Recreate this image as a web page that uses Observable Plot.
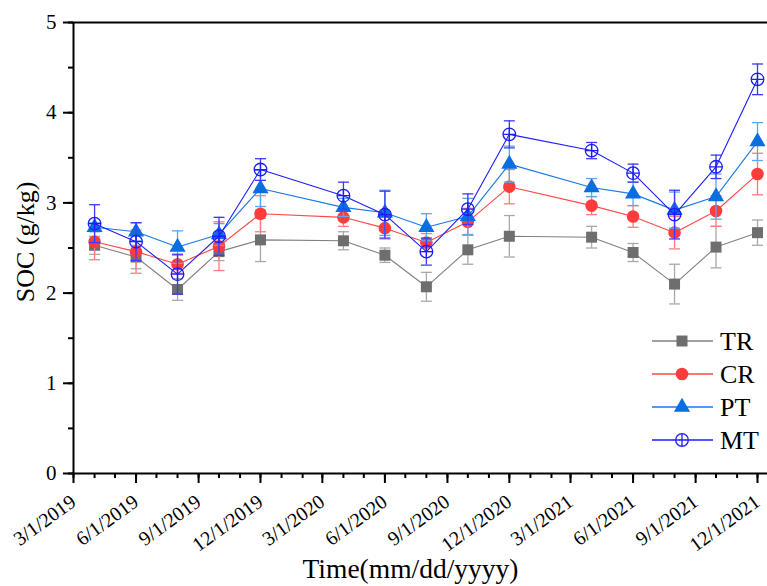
<!DOCTYPE html>
<html>
<head>
<meta charset="utf-8">
<script src="https://cdn.jsdelivr.net/npm/d3@7"></script>
<script src="https://cdn.jsdelivr.net/npm/@observablehq/plot@0.6"></script>
<style>
  html, body { margin: 0; padding: 0; background: #fff; }
  #wrap { position: relative; width: 767px; height: 586px; }
  #wrap svg { position: absolute; left: 0; top: 0; }
</style>
</head>
<body>
<div id="wrap"></div>
<script>
// ---- data ----
const dates = ["2019-04-01","2019-06-01","2019-08-01","2019-10-01","2019-12-01",
               "2020-04-01","2020-06-01","2020-08-01","2020-10-01","2020-12-01",
               "2021-04-01","2021-06-01","2021-08-01","2021-10-01","2021-12-01"];
const seriesNames = ["TR", "CR", "PT", "MT"];
const TR = [2.53,2.40,2.04,2.46,2.59,2.58,2.42,2.07,2.48,2.63,2.62,2.45,2.10,2.51,2.67];
const TR_err = [0.10,0.13,0.12,0.10,0.24,0.10,0.08,0.16,0.16,0.23,0.12,0.10,0.22,0.23,0.14];
const CR = [2.57,2.46,2.32,2.52,2.88,2.84,2.72,2.56,2.79,3.18,2.97,2.85,2.67,2.91,3.32];
const CR_err = [0.20,0.24,0.10,0.27,0.20,0.10,0.12,0.10,0.15,0.19,0.10,0.12,0.18,0.17,0.23];
const PT = [2.73,2.68,2.51,2.65,3.16,2.95,2.89,2.73,2.85,3.43,3.17,3.10,2.92,3.07,3.68];
const PT_err = [0.05,0.10,0.18,0.12,0.20,0.10,0.25,0.15,0.20,0.20,0.10,0.13,0.20,0.25,0.21];
const MT = [2.77,2.57,2.21,2.63,3.37,3.08,2.87,2.46,2.93,3.76,3.58,3.33,2.87,3.40,4.37];
const MT_err = [0.21,0.21,0.22,0.21,0.12,0.15,0.26,0.15,0.17,0.15,0.09,0.10,0.27,0.13,0.17];
const xTicks = ["2019-03-01","2019-06-01","2019-09-01","2019-12-01","2020-03-01","2020-06-01",
                "2020-09-01","2020-12-01","2021-03-01","2021-06-01","2021-09-01","2021-12-01"];
const yTicks = [0, 1, 2, 3, 4, 5];
const xTitle = "Time(mm/dd/yyyy)";
const yTitle = "SOC (g/kg)";

// ---- styles ----
const lineColors = {TR: "#808080", CR: "#ff4848", PT: "#1a78e6", MT: "#1c1cff"};
const markColors = {TR: "#6e6e6e", CR: "#ff3c3c", PT: "#0a6ee0", MT: "#1c1cff"};
const barColors  = {TR: "#a8a8a8", CR: "#ff7a7a", PT: "#5aa6f2", MT: "#3a3aff"};
const font = "Liberation Serif";

const valuesBy = {TR, CR, PT, MT};
const errBy = {TR: TR_err, CR: CR_err, PT: PT_err, MT: MT_err};
const parse = s => new Date(s + "T00:00:00Z");
const fmt = d => `${d.getUTCMonth() + 1}/${d.getUTCDate()}/${d.getUTCFullYear()}`;

const capSymbol = {
  draw(ctx, size) { const w = Math.sqrt(size / Math.PI); ctx.moveTo(-w, 0); ctx.lineTo(w, 0); }
};
const circlePlus = {
  draw(ctx, size) {
    const r = Math.sqrt(size / Math.PI);
    ctx.moveTo(r, 0); ctx.arc(0, 0, r, 0, 2 * Math.PI);
    ctx.moveTo(-r, 0); ctx.lineTo(r, 0);
    ctx.moveTo(0, -r); ctx.lineTo(0, r);
  }
};
const symbols = {TR: "square", CR: "circle", PT: "triangle", MT: circlePlus};
const radii = {TR: 6.2, CR: 6.3, PT: 6.0, MT: 6.3};

const xStart = parse("2019-03-01"), xEnd = parse("2021-12-01");
const monthly = d3.utcMonth.range(xStart, d3.utcDay.offset(xEnd, 1));

const marks = [];
for (const s of seriesNames) {
  const data = dates.map((d, i) => ({date: parse(d), v: valuesBy[s][i], e: errBy[s][i]}));
  marks.push(Plot.line(data, {x: "date", y: "v", stroke: lineColors[s], strokeWidth: 1.1}));
  marks.push(Plot.ruleX(data, {x: "date", y1: d => d.v - d.e, y2: d => d.v + d.e, stroke: barColors[s], strokeWidth: 1.3}));
  marks.push(Plot.dot(data, {x: "date", y: d => d.v + d.e, symbol: capSymbol, r: 5.5, stroke: barColors[s], strokeWidth: 1.3}));
  marks.push(Plot.dot(data, {x: "date", y: d => d.v - d.e, symbol: capSymbol, r: 5.5, stroke: barColors[s], strokeWidth: 1.3}));
  if (s === "MT") {
    marks.push(Plot.dot(data, {x: "date", y: "v", symbol: symbols[s], r: radii[s], fill: "white", fillOpacity: 0, stroke: markColors[s], strokeWidth: 1.3}));
  } else {
    marks.push(Plot.dot(data, {x: "date", y: "v", symbol: symbols[s], r: radii[s], fill: markColors[s], stroke: "none"}));
  }
}

const chart = Plot.plot({
  width: 767, height: 586,
  marginLeft: 73, marginTop: 22, marginBottom: 113, marginRight: 0,
  style: {fontFamily: font, color: "black", background: "white", overflow: "visible"},
  x: {type: "utc", domain: [xStart, xEnd], range: [73, 757], label: null},
  y: {domain: [0, 5], range: [473, 22], label: null},
  marks: [
    Plot.axisY(d3.range(0, 5.01, 0.5), {tickSize: 5, tickFormat: () => "", strokeWidth: 2, label: null}),
    Plot.axisY(yTicks, {tickSize: 10, tickPadding: 7, fontSize: 21, fontFamily: font, strokeWidth: 2, label: null, tickFormat: d => String(d)}),
    Plot.axisX(monthly, {tickSize: 5, tickFormat: () => "", strokeWidth: 2, label: null}),
    Plot.axisX(xTicks.map(parse), {tickSize: 10, tickPadding: 16, dx: 0, tickRotate: -36, fontSize: 20, fontFamily: font, strokeWidth: 2, label: null, tickFormat: fmt}),
    Plot.ruleY([0], {stroke: "black", strokeWidth: 2}),
    Plot.ruleY([5], {stroke: "black", strokeWidth: 2}),
    Plot.ruleX([xStart], {stroke: "black", strokeWidth: 2}),
    ...marks,
    Plot.text([yTitle], {frameAnchor: "left", textAnchor: "middle", lineAnchor: "middle", dx: -48, dy: -6, rotate: -90, fontSize: 26, fontFamily: font, fill: "black"}),
    Plot.text([xTitle], {frameAnchor: "bottom", textAnchor: "middle", lineAnchor: "middle", dy: 96, dx: -10, fontSize: 27.5, fontFamily: font, fill: "black"})
  ]
});
document.getElementById("wrap").appendChild(chart);

// ---- legend (overlay) ----
const leg = d3.select("#wrap").append("svg")
  .attr("width", 767).attr("height", 586)
  .style("pointer-events", "none");
const rowY = [341, 374, 407, 440];
seriesNames.forEach((s, i) => {
  const g = leg.append("g").attr("transform", `translate(0,${rowY[i]})`);
  g.append("line").attr("x1", 652).attr("x2", 713).attr("y1", 0).attr("y2", 0)
    .attr("stroke", lineColors[s]).attr("stroke-width", 1.3);
  const r = radii[s];
  const sym = typeof symbols[s] === "string"
    ? {square: d3.symbolSquare, circle: d3.symbolCircle, triangle: d3.symbolTriangle}[symbols[s]]
    : symbols[s];
  const path = d3.symbol(sym, Math.PI * r * r)();
  const p = g.append("path").attr("d", path).attr("transform", "translate(682,0)");
  if (s === "MT") p.attr("fill", "white").attr("stroke", markColors[s]).attr("stroke-width", 1.3);
  else p.attr("fill", markColors[s]);
  g.append("text").attr("x", 720).attr("y", 0).attr("dy", "0.35em")
    .attr("font-family", font).attr("font-size", 26).attr("fill", "black").text(s);
});
</script>
</body>
</html>
